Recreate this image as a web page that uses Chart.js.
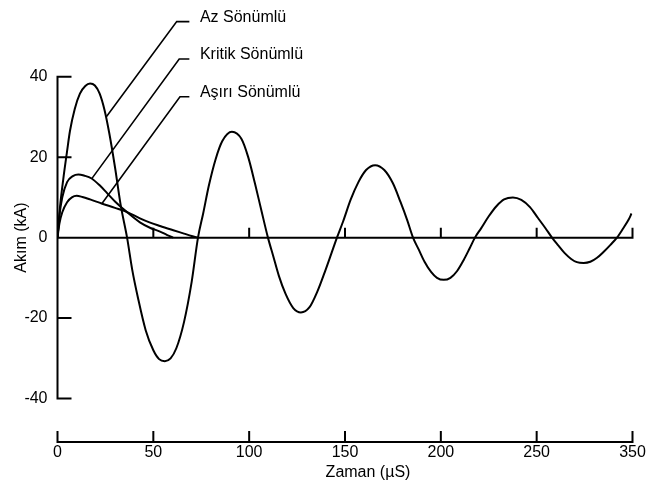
<!DOCTYPE html>
<html><head><meta charset="utf-8">
<script src="https://cdn.jsdelivr.net/npm/chart.js@4/dist/chart.umd.min.js"></script>
<style>html,body{margin:0;padding:0;background:#fff}#wrap{width:647px;height:484px}</style>
</head><body><div id="wrap"><canvas id="c" width="647" height="484"></canvas></div>
<script>
// ---- data ----
const xTickValues = [0, 50, 100, 150, 200, 250, 300];
const xTickLabels = ["0", "50", "100", "150", "200", "250", "350"];
const yTickValues = [40, 20, 0, -20, -40];
const xTitle = "Zaman (µS)";
const yTitle = "Akım (kA)";
const seriesNames = ["Az Sönümlü", "Kritik Sönümlü", "Aşırı Sönümlü"];

const azX = [0,1.5,3,5,6.5,9,11.7,14.5,17,19.5,22,24.5,27,30,33,36.3,
  39,42,46,50,53,56,59,62,66,70,73.3,
  76,79,82.5,86,91,96,99.5,103,106.5,109.8,
  112.5,115.5,119,123,127,131.5,135.5,139.5,143,145.8,
  149,153,157,161,165.7,170.5,175,179,182.5,185.5,
  188.5,191.5,195,198,201.5,205,208.5,212,215,217.8,
  221,225,229,233,237.6,242,246.5,250.5,254.5,258,
  261,264.5,268,271,274.5,278,281.5,285,288.5,291.9,
  295,298,299.5];
const azY = [0,8.5,14.5,21.5,26.5,32,35.8,37.7,38.3,37.8,35.8,31.8,26,17.5,8,0,
  -8,-15,-23,-28,-30.2,-30.7,-30,-27.5,-21,-11,0,
  6,13,19.5,24,26.3,24.5,20,13.5,6.5,0,
  -4.5,-9.5,-14,-17.5,-18.6,-17.3,-13.5,-8.5,-3.8,0,
  4,9.5,13.8,16.8,18,16.8,13.5,8.8,4.3,0,
  -3,-6,-8.6,-10,-10.5,-10,-8.3,-5.5,-2.7,0,
  2.3,5.3,7.8,9.5,10,9.4,7.6,5,2.4,0,
  -1.8,-3.8,-5.3,-6.1,-6.3,-6,-5,-3.5,-1.8,0,
  2.2,4.5,6];

const kritikX = [0,1,2.5,5,8,10.9,14,17.8,22,26,30,36.1,43,48.5,53.5,57,60.3];
const kritikY = [0,5.5,10,13.8,15.3,15.7,15.4,14.7,13,11,9,6.4,3.8,2.4,1.5,0.7,0];

const asiriX = [0,1,2.5,5,7.5,10,13,17,23,30,36.1,43,48,53.5,60,66,70,73.3];
const asiriY = [0,3.5,6.3,8.8,10,10.4,10.1,9.5,8.5,7.4,6.4,4.8,3.8,2.9,1.9,1.0,0.4,0];

// callout anchors (data units): point on curve, elbow, label
const calloutCurveX = [25.3, 17.8, 23.1];
const calloutCurveY = [29.9, 14.6, 8.4];
const calloutElbowX = [62.2, 63.5, 63.9];
const calloutLabelY = [53.7, 44.4, 35.0];
const calloutLineEndX = 68.8;
const calloutTextX = 74.3;

// ---- helpers ----
const toPts = (xs, ys) => xs.map((v, i) => ({x: v, y: ys[i]}));
const FONT = '"Liberation Sans", Arial, Helvetica, sans-serif';
Chart.defaults.font.family = FONT;
Chart.defaults.color = '#000';

const axesPlugin = {
  id: 'axesDraw',
  afterDraw(chart) {
    const {ctx, chartArea: a, scales: {x, y}} = chart;
    ctx.save();
    ctx.strokeStyle = '#000';
    ctx.lineWidth = 2;
    ctx.lineCap = 'square';
    const x0 = x.getPixelForValue(0);
    const pz = y.getPixelForValue(0);
    ctx.beginPath();
    // left axis
    ctx.moveTo(x0, y.getPixelForValue(40));
    ctx.lineTo(x0, y.getPixelForValue(-40));
    yTickValues.filter(v => v !== 0).forEach(v => {
      const py = y.getPixelForValue(v);
      ctx.moveTo(x0, py); ctx.lineTo(x0 + 13, py);
    });
    // zero line with ticks
    ctx.moveTo(x0, pz); ctx.lineTo(x.getPixelForValue(300), pz);
    xTickValues.slice(1).forEach(v => {
      const px = x.getPixelForValue(v);
      ctx.moveTo(px, pz); ctx.lineTo(px, pz - 9);
    });
    // bottom axis
    ctx.moveTo(x0, a.bottom); ctx.lineTo(x.getPixelForValue(300), a.bottom);
    xTickValues.forEach(v => {
      const px = x.getPixelForValue(v);
      ctx.moveTo(px, a.bottom); ctx.lineTo(px, a.bottom - 10);
    });
    ctx.stroke();

    // callouts
    ctx.lineCap = 'butt';
    ctx.lineWidth = 1.6;
    ctx.beginPath();
    seriesNames.forEach((n, i) => {
      const ly = y.getPixelForValue(calloutLabelY[i]);
      ctx.moveTo(x.getPixelForValue(calloutLineEndX), ly);
      ctx.lineTo(x.getPixelForValue(calloutElbowX[i]), ly);
      ctx.lineTo(x.getPixelForValue(calloutCurveX[i]), y.getPixelForValue(calloutCurveY[i]));
    });
    ctx.stroke();
    ctx.fillStyle = '#000';
    ctx.font = '16px ' + FONT;
    ctx.textAlign = 'left';
    ctx.textBaseline = 'alphabetic';
    seriesNames.forEach((n, i) => {
      ctx.fillText(n, x.getPixelForValue(calloutTextX), y.getPixelForValue(calloutLabelY[i]));
    });

    // titles
    ctx.textAlign = 'center';
    ctx.textBaseline = 'middle';
    ctx.fillText(xTitle, (a.left + a.right) / 2 + 23, 473);
    ctx.translate(22, pz);
    ctx.rotate(-Math.PI / 2);
    ctx.fillText(yTitle, 0, 0);
    ctx.restore();
  }
};

const lineStyle = {borderColor: '#000', borderWidth: 2, pointRadius: 0, fill: false,
  cubicInterpolationMode: 'monotone', borderJoinStyle: 'round'};

new Chart(document.getElementById('c'), {
  type: 'line',
  data: {
    datasets: [
      Object.assign({label: seriesNames[0], data: toPts(azX, azY)}, lineStyle),
      Object.assign({label: seriesNames[1], data: toPts(kritikX, kritikY)}, lineStyle),
      Object.assign({label: seriesNames[2], data: toPts(asiriX, asiriY)}, lineStyle)
    ]
  },
  options: {
    responsive: false,
    animation: false,
    devicePixelRatio: 1,
    layout: {padding: {top: 76.7, right: 14.5, bottom: 0, left: 0}},
    plugins: {legend: {display: false}, tooltip: {enabled: false}},
    scales: {
      x: {
        type: 'linear', min: 0, max: 300, position: 'bottom',
        grid: {display: false, drawTicks: false}, border: {display: false},
        ticks: {font: {size: 16}, color: '#000', padding: 1, maxRotation: 0, autoSkip: false,
          callback: (v) => xTickLabels[xTickValues.indexOf(v)]},
        afterBuildTicks: (s) => { s.ticks = xTickValues.map(v => ({value: v})); },
        afterFit: (s) => { s.height = 42; }
      },
      y: {
        type: 'linear', min: -50.8, max: 40,
        grid: {display: false, drawTicks: false}, border: {display: false},
        ticks: {font: {size: 16}, color: '#000', padding: 10},
        afterBuildTicks: (s) => { s.ticks = yTickValues.map(v => ({value: v})); },
        afterFit: (s) => { s.width = 57.5; }
      }
    }
  },
  plugins: [axesPlugin]
});
</script>
</body></html>
